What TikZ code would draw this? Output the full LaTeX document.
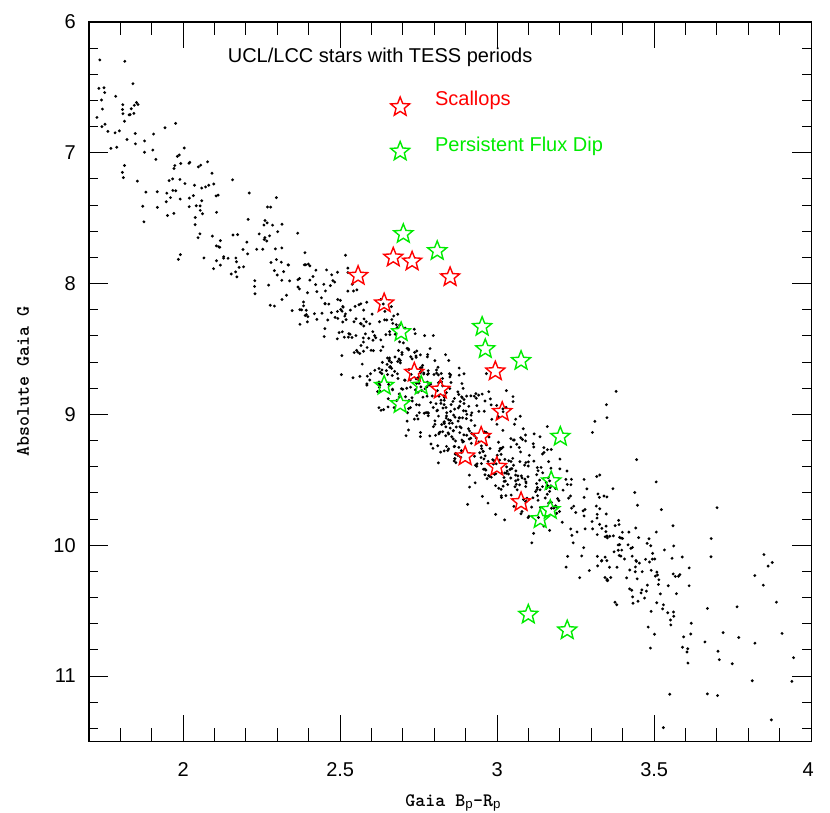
\documentclass[tikz,border=0pt]{standalone}
\usepackage{fontspec}
\setmainfont{Liberation Sans}
\usetikzlibrary{shapes.geometric}
\definecolor{scallop}{RGB}{255,0,0}
\definecolor{fluxdip}{RGB}{0,235,0}
\tikzset{
  dot/.style={fill=black, draw=none, circle, inner sep=0pt, minimum size=3.2pt},
  starmark/.style={star, star points=5, star point ratio=2.3, draw=#1, line width=1.4pt, inner sep=0pt, minimum size=20pt},
  ticklabel/.style={font=\fontsize{20}{22}\selectfont},
  legtext/.style={font=\fontsize{20}{22}\selectfont, anchor=west},
  axlabel/.style={font=\ttfamily\bfseries\fontsize{19}{21}\selectfont},
}
\begin{document}
\begin{tikzpicture}[x=314pt, y=-130.8pt, line width=1pt]
        \useasboundingbox (1.4166,5.8318) rectangle (4.0599,12.047);

        % frame and ticks
        \draw[line width=1.2pt] (1.7,6) rectangle (4,11.5);
        \foreach \t in {1.8,1.9,...,3.95}{
          \draw (\t,11.5) -- ++(0,-0.1);
          \draw (\t,6) -- ++(0,0.1);
        }
        \foreach \t in {2,2.5,3,3.5}{
          \draw (\t,11.5) -- ++(0,-0.2);
          \draw (\t,6) -- ++(0,0.2);
          \node[ticklabel, anchor=north] at (\t,11.63) {\t};
        }
        \node[ticklabel, anchor=north] at (3.99,11.63) {4};
        \foreach \t in {6.2,6.4,...,11.4}{
          \draw (1.7,\t) -- ++(0.03,0);
          \draw (4,\t) -- ++(-0.03,0);
        }
        \foreach \t in {6,7,...,11}{
          \draw (1.7,\t) -- ++(0.06,0);
          \draw (4,\t) -- ++(-0.06,0);
          \node[ticklabel, anchor=east] at (1.67,\t) {\t};
        }
        \node[axlabel] (xlab) at (2.86,11.97) {Gaia B$_\mathrm{p}$-R$_\mathrm{p}$};
        \node[axlabel, rotate=90] (ylab) at (1.49,8.75) {Absolute Gaia G};

        % field stars
        \begin{scope}
          \clip (1.7,6) rectangle (4,11.5);
          \pgfmathsetseed{4242}
          \foreach \i in {1,...,380}{
            \pgfmathsetmacro\bx{1.72+1.9*rnd}
            \pgfmathsetmacro\gm{6.85+2.0*(\bx-1.75)+0.28*(rand+rand)-0.2*rnd}
            \node[dot] at (\bx,\gm) {};
          }
          \foreach \i in {1,...,520}{
            \pgfmathsetmacro\bx{2.85+0.32*(rand+rand)}
            \pgfmathsetmacro\gm{6.85+2.0*(\bx-1.75)+0.25*(rand+rand)-0.15*rnd}
            \node[dot] at (\bx,\gm) {};
          }
          \foreach \i in {1,...,70}{
            \pgfmathsetmacro\bx{3.3+0.65*rnd}
            \pgfmathsetmacro\gm{6.85+2.0*(\bx-1.75)+0.6*(rand+rand)-0.3*rnd}
            \node[dot] at (\bx,\gm) {};
          }
        \end{scope}

        % scallops
        \foreach \bx/\gm in {2.557/7.94, 2.669/7.80, 2.729/7.83, 2.850/7.95, 2.640/8.15,
                             2.736/8.68, 2.819/8.81, 2.994/8.67, 3.016/8.98, 2.949/9.17,
                             2.898/9.32, 2.999/9.40, 3.076/9.67}
          \node[starmark=scallop] at (\bx,\gm) {};

        % persistent flux dip
        \foreach \bx/\gm in {2.701/7.62, 2.809/7.75, 2.694/8.37, 2.952/8.33, 2.962/8.50,
                             3.076/8.59, 2.640/8.78, 2.758/8.78, 2.691/8.92, 3.201/9.17,
                             3.172/9.51, 3.169/9.73, 3.137/9.80, 3.099/10.53, 3.223/10.65}
          \node[starmark=fluxdip] at (\bx,\gm) {};

        % legend
        \node[legtext] (title) at (2.13,6.27) {UCL/LCC stars with TESS periods};
        \node[starmark=scallop] (legscallop) at (2.691,6.65) {};
        \node[legtext, text=scallop] (txtscallop) at (2.79,6.6) {Scallops};
        \node[starmark=fluxdip] (legflux) at (2.691,6.99) {};
        \node[legtext, text=fluxdip] (txtflux) at (2.79,6.95) {Persistent Flux Dip};
\end{tikzpicture}
\end{document}
